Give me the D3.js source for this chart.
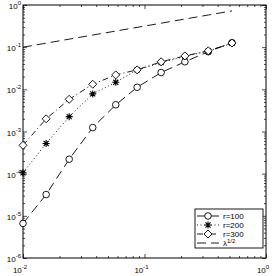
<!DOCTYPE html>
<html>
<head>
<meta charset="utf-8">
<script src="https://cdn.jsdelivr.net/npm/d3@7"></script>
<style>
  html, body { margin: 0; padding: 0; background: #fff; }
  svg { display: block; }
  text { font-family: "Liberation Sans", Arial, sans-serif; fill: #000; }
</style>
</head>
<body>
<div id="chart"></div>
<script>
// values
const lambda = [0.01, 0.0155, 0.024, 0.0375, 0.058, 0.087, 0.137, 0.215, 0.335, 0.525];
const r100 = [6.6e-6, 3.2e-5, 2.2e-4, 1.24e-3, 4.3e-3, 1.12e-2, 2.5e-2, 4.5e-2, 7.8e-2, 0.128];
const r200 = [1.05e-4, 5.2e-4, 2.25e-3, 7.8e-3, 1.47e-2, 2.9e-2, 4.3e-2, 6.0e-2, 8.1e-2, 0.124];
const r300 = [4.7e-4, 2.0e-3, 5.8e-3, 1.32e-2, 2.2e-2, 2.9e-2, 4.5e-2, 6.2e-2, 8.2e-2, 0.125];
const sqrtRef = [0.1, 0.1245, 0.155, 0.194, 0.241, 0.295, 0.37, 0.464, 0.579, 0.725];
const seriesLabels = ["r=100", "r=200", "r=300", "\u03bb"];
const xTickExp = [-2, -1, 0];
const yTickExp = [-6, -5, -4, -3, -2, -1, 0];

const W = 276, H = 276;
const margin = { top: 5, right: 10, bottom: 18, left: 23 };

const svg = d3.select("#chart").append("svg")
  .attr("width", W).attr("height", H);

const x = d3.scaleLog().domain([1e-2, 1]).range([margin.left, W - margin.right]);
const y = d3.scaleLog().domain([1e-6, 1]).range([H - margin.bottom, margin.top]);

const x0 = margin.left, x1 = W - margin.right, y0 = H - margin.bottom, y1 = margin.top;

const xMajor = xTickExp.map(e => Math.pow(10, e));
const yMajor = yTickExp.map(e => Math.pow(10, e));
const isMajor = v => Math.abs(Math.log10(v) - Math.round(Math.log10(v))) < 1e-6;
const xMinor = x.ticks().filter(v => !isMajor(v));
const yMinor = y.ticks().filter(v => !isMajor(v));

function styleAxis(g) {
  g.select(".domain").remove();
  g.selectAll(".tick line").attr("stroke", "#000").attr("stroke-width", 0.7);
}

// ticks on all four sides, pointing inward
[[d3.axisBottom, y0], [d3.axisTop, y1]].forEach(([ax, pos]) => {
  svg.append("g").attr("transform", `translate(0,${pos})`)
    .call(ax(x).tickValues(xMajor).tickSize(-4).tickFormat(""))
    .call(styleAxis);
  svg.append("g").attr("transform", `translate(0,${pos})`)
    .call(ax(x).tickValues(xMinor).tickSize(-2).tickFormat(""))
    .call(styleAxis);
});
[[d3.axisLeft, x0], [d3.axisRight, x1]].forEach(([ax, pos]) => {
  svg.append("g").attr("transform", `translate(${pos},0)`)
    .call(ax(y).tickValues(yMajor).tickSize(-4).tickFormat(""))
    .call(styleAxis);
  svg.append("g").attr("transform", `translate(${pos},0)`)
    .call(ax(y).tickValues(yMinor).tickSize(-2).tickFormat(""))
    .call(styleAxis);
});

// box
svg.append("rect")
  .attr("x", x0).attr("y", y1)
  .attr("width", x1 - x0).attr("height", y0 - y1)
  .attr("fill", "none").attr("stroke", "#000").attr("stroke-width", 1);

// tick labels 10^n
function powLabel(sel, e) {
  sel.append("tspan").attr("font-size", 8).text("10");
  sel.append("tspan").attr("font-size", 6).attr("dy", -4).text(e);
}
xTickExp.forEach(e => {
  const t = svg.append("text")
    .attr("x", x(Math.pow(10, e)) - 3)
    .attr("y", y0 + 15)
    .attr("text-anchor", "middle");
  powLabel(t, e);
});
yTickExp.forEach(e => {
  const t = svg.append("text")
    .attr("x", x0 - 2)
    .attr("y", y(Math.pow(10, e)) + 4)
    .attr("text-anchor", "end");
  powLabel(t, e);
});

const lineGen = d3.line().x(d => x(d[0])).y(d => y(d[1]));
const zip = vals => lambda.map((l, i) => [l, vals[i]]);

const styles = [
  { data: r100, dash: "9,5", marker: "circle" },
  { data: r200, dash: "1,2.5", marker: "star" },
  { data: r300, dash: "6,3,1,3", marker: "diamond" },
  { data: sqrtRef, dash: "9,5", marker: null }
];

function drawMarker(g, type, cx, cy) {
  if (type === "circle") {
    g.append("circle").attr("cx", cx).attr("cy", cy).attr("r", 3.3)
      .attr("fill", "#fff").attr("stroke", "#000").attr("stroke-width", 0.9);
  } else if (type === "diamond") {
    const s = 4;
    g.append("path")
      .attr("d", `M${cx},${cy - s}L${cx + s},${cy}L${cx},${cy + s}L${cx - s},${cy}Z`)
      .attr("fill", "#fff").attr("stroke", "#000").attr("stroke-width", 0.9);
  } else if (type === "star") {
    const s = 3.5, d = s * 0.72;
    g.append("path")
      .attr("d", `M${cx - s},${cy}L${cx + s},${cy}M${cx},${cy - s}L${cx},${cy + s}` +
        `M${cx - d},${cy - d}L${cx + d},${cy + d}M${cx - d},${cy + d}L${cx + d},${cy - d}`)
      .attr("fill", "none").attr("stroke", "#000").attr("stroke-width", 1.1);
  }
}

const plot = svg.append("g");
styles.forEach(s => {
  plot.append("path")
    .datum(zip(s.data))
    .attr("d", lineGen)
    .attr("fill", "none")
    .attr("stroke", "#000")
    .attr("stroke-width", 0.9)
    .attr("stroke-dasharray", s.dash);
});
styles.forEach(s => {
  if (!s.marker) return;
  const g = plot.append("g");
  zip(s.data).forEach(d => drawMarker(g, s.marker, x(d[0]), y(d[1])));
});

// legend
const lg = svg.append("g");
lg.append("rect")
  .attr("x", 195).attr("y", 209).attr("width", 68).attr("height", 39)
  .attr("fill", "#fff").attr("stroke", "#000").attr("stroke-width", 0.9);
styles.forEach((s, i) => {
  const ly = 216 + i * 9;
  lg.append("line")
    .attr("x1", 197).attr("x2", 219).attr("y1", ly).attr("y2", ly)
    .attr("stroke", "#000").attr("stroke-width", 0.9)
    .attr("stroke-dasharray", s.dash);
  if (s.marker) drawMarker(lg, s.marker, 208, ly);
  const t = lg.append("text").attr("x", 223).attr("y", ly + 3).attr("font-size", 8);
  if (i < 3) {
    t.text(seriesLabels[i]);
  } else {
    t.append("tspan").text(seriesLabels[i]);
    t.append("tspan").attr("font-size", 6).attr("dy", -3.5).text("1/2");
  }
});
</script>
</body>
</html>
